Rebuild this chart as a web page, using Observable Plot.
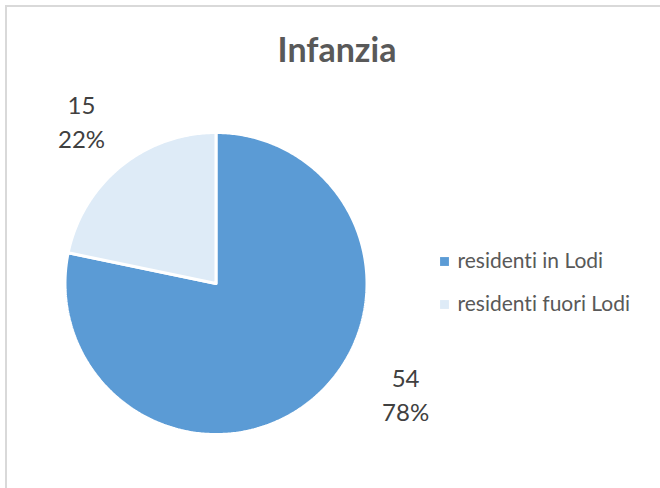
<!DOCTYPE html>
<html>
<head>
<meta charset="utf-8">
<script src="https://cdn.jsdelivr.net/npm/d3@7"></script>
<script src="https://cdn.jsdelivr.net/npm/@observablehq/plot@0.6"></script>
<style>
  html, body { margin: 0; padding: 0; background: #fff; }
  #wrap { position: relative; width: 660px; height: 488px; overflow: hidden; font-variant-ligatures: none; }
  #frame { position: absolute; left: 5px; top: 5px; width: 700px; height: 600px;
           border-left: 2px solid #D9D9D9; border-top: 2px solid #D9D9D9; box-sizing: border-box; }
  #title { position: absolute; left: 0; width: 674px; top: 28px; text-align: center;
           font-family: Lato, "Open Sans", sans-serif; font-weight: bold; font-size: 34px; color: #595959; }
  #chart { position: absolute; left: 0; top: 0; }
  #chart text { font-variant-ligatures: none; }
</style>
</head>
<body>
<div id="wrap">
  <div id="frame"></div>
  <div id="chart"></div>
  <div id="title">Infanzia</div>
</div>
<script>
const title = "Infanzia";
const categories = ["residenti in Lodi", "residenti fuori Lodi"];
const values = [54, 15];
const percentLabels = ["78%", "22%"];
const colors = ["#5B9BD5", "#DEEBF7"];

// layout (pixels)
const W = 660, H = 488, CX = 215.5, CY = 283, R = 151;
const labelLayout = [{angle: 120, r: 1.45}, {angle: 320.5, r: 1.40}];

const total = d3.sum(values);
const pie = d3.pie().sort(null).value(d => d)(values);

// polygon points for each slice (angles clockwise from 12 o'clock, y up)
const slicePts = [];
pie.forEach((p, i) => {
  const n = Math.max(8, Math.ceil((p.endAngle - p.startAngle) * 90));
  slicePts.push({cat: categories[i], x: 0, y: 0});
  for (let k = 0; k <= n; k++) {
    const a = p.startAngle + (p.endAngle - p.startAngle) * k / n;
    slicePts.push({cat: categories[i], x: Math.sin(a), y: Math.cos(a)});
  }
  slicePts.push({cat: categories[i], x: 0, y: 0});
});

const labels = categories.map((c, i) => {
  const a = labelLayout[i].angle * Math.PI / 180, r = labelLayout[i].r;
  return {cat: c, x: r * Math.sin(a), y: r * Math.cos(a), text: values[i] + "\n" + percentLabels[i]};
});

// legend entries in data units
const legend = categories.map((c, i) => ({
  cat: c,
  x: (444 - CX) / R,
  y: (CY - (261 + i * 43)) / R
}));

const xDomain = [-CX / R, (W - CX) / R];
const yDomain = [-(H - CY) / R, CY / R];

const plot = Plot.plot({
  width: W, height: H,
  margin: 0,
  x: {domain: xDomain, axis: null},
  y: {domain: yDomain, axis: null},
  color: {domain: categories, range: colors},
  style: {background: "transparent", fontFamily: "Lato, 'Open Sans', sans-serif"},
  marks: [
    Plot.line(slicePts, {x: "x", y: "y", z: "cat", fill: "cat", stroke: "white", strokeWidth: 3, strokeLinejoin: "miter", curve: "linear"}),
    Plot.text(labels, {x: "x", y: "y", text: "text", fontSize: 24, fill: "#404040", lineHeight: 1.4}),
    Plot.dot(legend, {x: "x", y: "y", symbol: "square", r: 5, fill: "cat", stroke: null}),
    Plot.text(legend, {x: "x", y: "y", text: "cat", dx: 13, textAnchor: "start", fontSize: 21, fill: "#595959"})
  ]
});
document.getElementById("chart").appendChild(plot);
</script>
</body>
</html>
